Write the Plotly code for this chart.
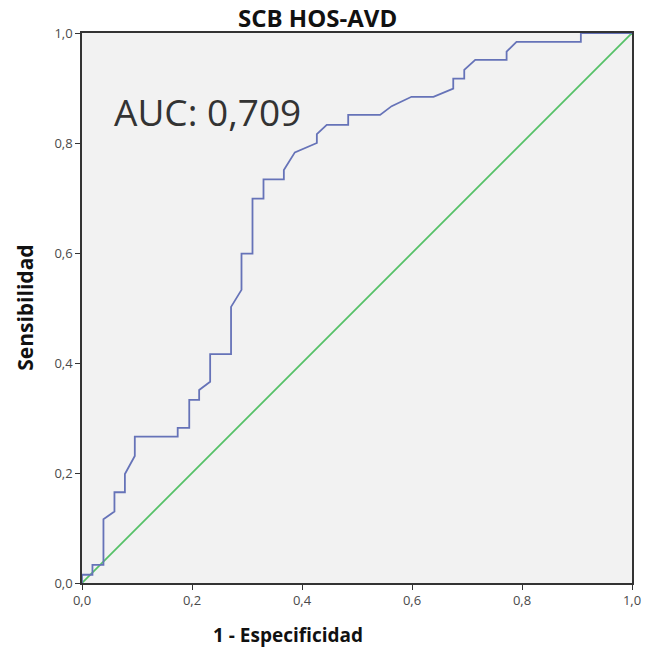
import plotly.graph_objects as go

# ROC curve points (1 - especificidad, sensibilidad)
fpr = [0, 0, 0.019, 0.019, 0.039, 0.039, 0.059, 0.059, 0.078, 0.078, 0.096, 0.096,
       0.174, 0.174, 0.195, 0.195, 0.213, 0.213, 0.233, 0.233, 0.271, 0.271, 0.290,
       0.290, 0.310, 0.310, 0.330, 0.330, 0.367, 0.367, 0.387, 0.427, 0.427, 0.445,
       0.484, 0.484, 0.542, 0.563, 0.599, 0.639, 0.675, 0.675, 0.695, 0.695, 0.715,
       0.772, 0.772, 0.790, 0.907, 0.907, 1.0]
tpr = [0, 0.015, 0.015, 0.033, 0.033, 0.116, 0.130, 0.165, 0.165, 0.198, 0.231, 0.266,
       0.266, 0.282, 0.282, 0.333, 0.333, 0.351, 0.366, 0.416, 0.416, 0.502, 0.533,
       0.599, 0.599, 0.699, 0.699, 0.734, 0.734, 0.751, 0.783, 0.800, 0.816, 0.833,
       0.833, 0.851, 0.851, 0.867, 0.884, 0.884, 0.899, 0.917, 0.917, 0.933, 0.951,
       0.951, 0.966, 0.984, 0.984, 1.0, 1.0]
ref_x = [0, 1]
ref_y = [0, 1]
tick_vals = [0, 0.2, 0.4, 0.6, 0.8, 1.0]
tick_text = ["0,0", "0,2", "0,4", "0,6", "0,8", "1,0"]
title_text = "SCB HOS-AVD"
auc_text = "AUC: 0,709"
x_title = "1 - Especificidad"
y_title = "Sensibilidad"

fig = go.Figure()
fig.add_trace(go.Scatter(x=ref_x, y=ref_y, mode="lines",
                         line=dict(color="#55C167", width=1.8), hoverinfo="skip"))
fig.add_trace(go.Scatter(x=fpr, y=tpr, mode="lines",
                         line=dict(color="#6673B8", width=1.8)))

axis_common = dict(range=[0, 1], tickvals=tick_vals, ticktext=tick_text,
                   ticks="outside", ticklen=5, tickwidth=1.2, tickcolor="#333",
                   showline=True, linecolor="#333", linewidth=1.5, mirror=True,
                   showgrid=False, zeroline=False, automargin=False,
                   tickfont=dict(family="Open Sans", size=13, color="#4a4a4a"))

fig.update_layout(
    width=646, height=653,
    margin=dict(l=82, r=14, t=33, b=70),
    paper_bgcolor="white", plot_bgcolor="#F2F2F2",
    showlegend=False,
    xaxis=dict(**axis_common),
    yaxis=dict(**axis_common),
    annotations=[
        dict(text=auc_text, x=0.055, y=0.858, xref="x", yref="y",
             xanchor="left", yanchor="middle", showarrow=False,
             font=dict(family="Open Sans", size=37, color="#333")),
        dict(text="<b>" + title_text + "</b>", x=0.428, y=1.029, xref="paper", yref="paper",
             xanchor="center", yanchor="middle", showarrow=False,
             font=dict(family="Open Sans", size=24, color="#111")),
        dict(text="<b>" + x_title + "</b>", x=0.3745, y=-0.094, xref="paper", yref="paper",
             xanchor="center", yanchor="middle", showarrow=False,
             font=dict(family="Open Sans", size=19, color="#111")),
        dict(text="<b>" + y_title + "</b>", x=-0.104, y=0.5, xref="paper", yref="paper",
             xanchor="center", yanchor="middle", showarrow=False, textangle=-90,
             font=dict(family="Open Sans", size=21, color="#111")),
    ],
)

fig.write_html("out.html")
